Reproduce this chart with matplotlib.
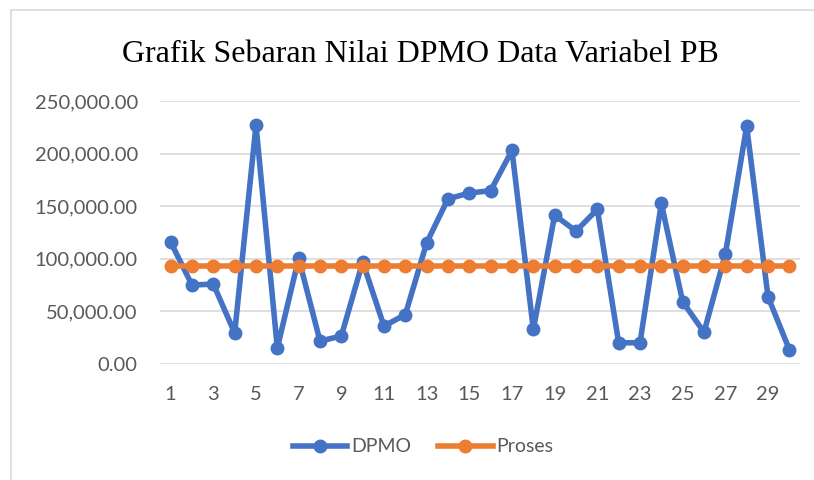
import matplotlib.pyplot as plt
from matplotlib.patches import Rectangle

# data
titik = list(range(1, 31))
dpmo = [116000, 75000, 76000, 29500, 227000, 15200, 100500, 21800, 26600, 97000,
        36000, 47000, 115200, 157000, 162500, 164800, 203000, 32800, 141500, 126300,
        147000, 20200, 20200, 152700, 59200, 30200, 104400, 226000, 64000, 13700]
proses = [93300] * 30
tick_pos = list(range(1, 31, 2))

blue = '#4472C4'
orange = '#ED7D31'
grey = '#595959'

fig = plt.figure(figsize=(8.14, 4.8), dpi=100)
ax = fig.add_axes([160 / 814, 1 - 364 / 480, 640 / 814, 263 / 480])

# chart frame (light grey border at top/left)
fig.patches.append(Rectangle((11 / 814, -0.05), 1.0, 1 - 10 / 480 + 0.05,
                             transform=fig.transFigure, fill=False,
                             edgecolor='#d9d9d9', linewidth=1.2))

ax.plot(titik, dpmo, color=blue, linewidth=4, marker='o', markersize=9, label='DPMO', zorder=3)
ax.plot(titik, proses, color=orange, linewidth=4, marker='o', markersize=9, label='Proses', zorder=4)

ax.set_xlim(0.5, 30.5)
ax.set_ylim(0, 250000)
ax.set_yticks(range(0, 250001, 50000))
ax.set_yticklabels([f'{v:,.2f}' for v in range(0, 250001, 50000)])
ax.set_xticks(tick_pos)
ax.set_xticklabels([str(t) for t in tick_pos])

ax.grid(axis='y', color='#d9d9d9', linewidth=1.2)
ax.set_axisbelow(True)
for s in ax.spines.values():
    s.set_visible(False)
ax.tick_params(length=0, labelsize=14.5, labelcolor=grey)
ax.tick_params(axis='y', pad=16)
ax.tick_params(axis='x', pad=16)
for lab in ax.get_xticklabels() + ax.get_yticklabels():
    lab.set_family('Lato')

fig.text(420 / 814, 1 - 55 / 480, 'Grafik Sebaran Nilai DPMO Data Variabel PB',
         ha='center', va='center', fontsize=23, family='Liberation Serif')

leg = fig.legend(loc='center', bbox_to_anchor=(423 / 814, 1 - 447 / 480), ncol=2,
                 frameon=False, prop={'family': 'Lato', 'size': 14},
                 handlelength=2.8, columnspacing=1.4, handletextpad=0.2)
for t in leg.get_texts():
    t.set_color(grey)

fig.savefig('out.png', dpi=100)
